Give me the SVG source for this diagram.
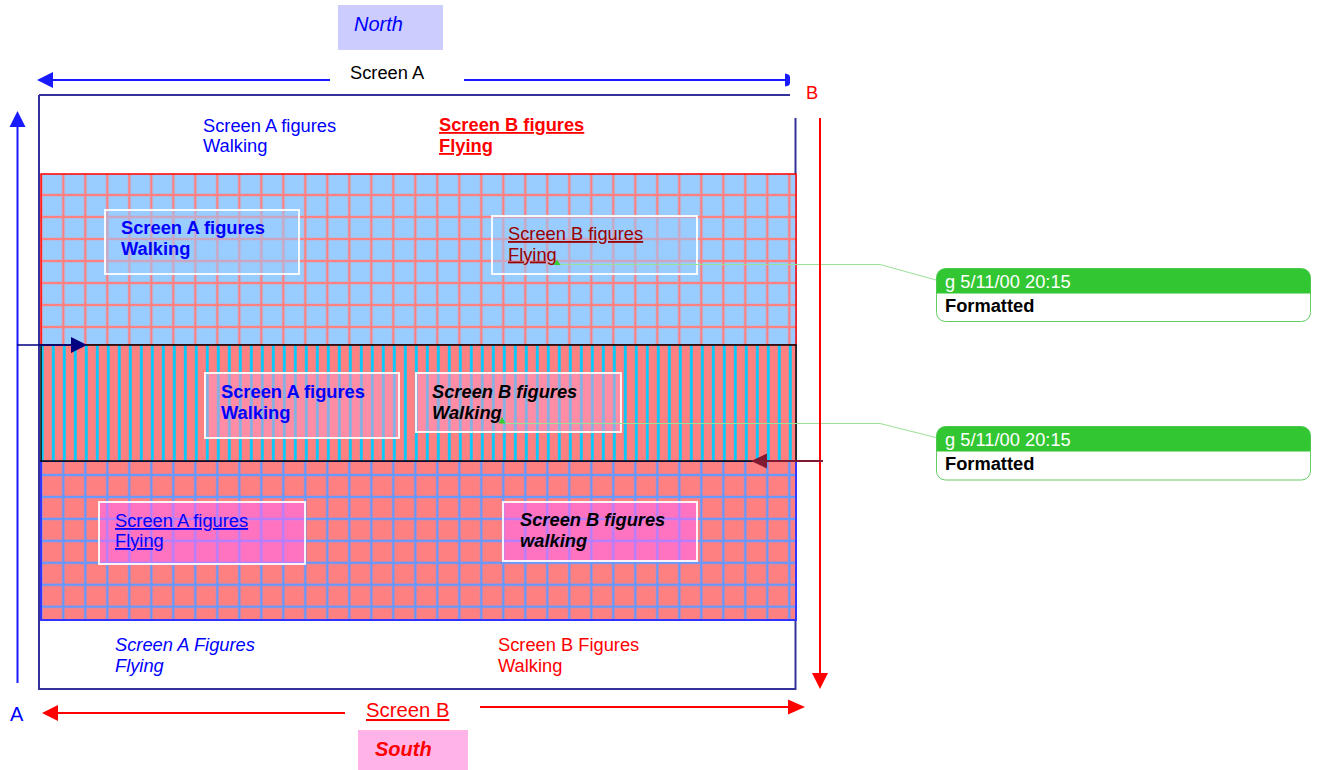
<svg xmlns="http://www.w3.org/2000/svg" width="1318" height="770" viewBox="0 0 1318 770">
<style>
text{font-family:"Liberation Sans",Arial,sans-serif;font-size:18.3px}
.blue{fill:#0000ff}
.red{fill:#ff0000}
.b{font-weight:bold}
.i{font-style:italic}
.u{text-decoration:underline}
.tbox{stroke:#ffffff;stroke-width:2;stroke-opacity:0.9}
.cmt{fill:#ffffff;stroke:#66cc66;stroke-width:1}
.cmth{fill:#33c633}
.lead{fill:none;stroke:#99e099;stroke-width:1}
</style>
<defs>
<pattern id="gridTop" patternUnits="userSpaceOnUse" x="52.3" y="184" width="22" height="22">
<rect width="22" height="22" fill="#99ccff"/>
<rect x="9.8" y="0" width="2.4" height="22" fill="#ff8080"/>
<rect x="0" y="9.8" width="22" height="2.4" fill="#ff8080"/>
</pattern>
<pattern id="gridBot" patternUnits="userSpaceOnUse" x="52.3" y="464" width="22" height="21.95">
<rect width="22" height="22" fill="#ff8080"/>
<rect x="9.8" y="0" width="2.4" height="22" fill="#6699ff"/>
<rect x="0" y="9.8" width="22" height="2.4" fill="#6699ff"/>
</pattern>
<pattern id="stripes" patternUnits="userSpaceOnUse" x="47.8" y="0" width="11" height="20">
<rect width="11" height="20" fill="#ff8080"/>
<rect x="4.1" y="0" width="2.8" height="20" fill="#00ccff"/>
</pattern>
</defs>

<g id="north">
<rect x="338" y="5" width="105" height="45" fill="#ccccff"/>
<text x="354" y="31" class="blue i" style="font-size:20px">North</text>
</g>
<g id="south">
<rect x="358" y="730" width="110" height="40" fill="#ffb3e6"/>
<text x="375" y="756" class="red b i" style="font-size:20px">South</text>
</g>

<g id="frame">
<path d="M39,95 H790 M39,95 V689 H795.5 V118" fill="none" stroke="#333399" stroke-width="2"/>
</g>

<g id="band-top">
<rect x="41" y="174" width="755" height="171" fill="url(#gridTop)" stroke="#ff0000" stroke-width="1.5"/>
</g>
<g id="band-bottom">
<rect x="41" y="461" width="755" height="159" fill="url(#gridBot)" stroke="#3333ff" stroke-width="2"/>
</g>
<g id="band-middle">
<rect x="41" y="345" width="755" height="116" fill="url(#stripes)" stroke="#000000" stroke-width="1.5"/>
</g>

<g id="label-top-a">
<text x="203" y="131.5" class="blue">Screen A figures</text>
<text x="203" y="152" class="blue">Walking</text>
</g>
<g id="label-top-b">
<text x="439" y="131" class="red b u">Screen B figures</text>
<text x="439" y="152" class="red b u">Flying</text>
</g>

<g id="box-top-a">
<rect class="tbox" x="105" y="210" width="194" height="64" fill="#99ccff" fill-opacity="0.5"/>
<text x="121" y="234" class="blue b">Screen A figures</text>
<text x="121" y="255" class="blue b">Walking</text>
</g>
<g id="box-top-b">
<rect class="tbox" x="492" y="216" width="205" height="58" fill="#99ccff" fill-opacity="0.5"/>
<text x="508" y="240" class="u" fill="#990000">Screen B figures</text>
<text x="508" y="260.5" class="u" fill="#990000">Flying</text>
</g>
<g id="box-mid-a">
<rect class="tbox" x="205" y="373" width="194" height="65" fill="#ff99cc" fill-opacity="0.5"/>
<text x="221" y="398" class="blue b">Screen A figures</text>
<text x="221" y="419" class="blue b">Walking</text>
</g>
<g id="box-mid-b">
<rect class="tbox" x="416" y="373" width="205" height="59" fill="#ff99cc" fill-opacity="0.5"/>
<text x="432" y="397.5" class="b i" fill="#000000">Screen B figures</text>
<text x="432" y="418.5" class="b i" fill="#000000">Walking</text>
</g>
<g id="box-bot-a">
<rect class="tbox" x="99" y="502" width="206" height="62" fill="#ff66ff" fill-opacity="0.5"/>
<text x="115" y="527" class="blue u">Screen A figures</text>
<text x="115" y="547" class="blue u">Flying</text>
</g>
<g id="box-bot-b">
<rect class="tbox" x="503" y="502" width="194" height="59" fill="#ff66ff" fill-opacity="0.5"/>
<text x="520" y="526" class="b i" fill="#000000">Screen B figures</text>
<text x="520" y="547" class="b i" fill="#000000">walking</text>
</g>

<g id="label-bot-a">
<text x="115" y="651" class="blue i">Screen A Figures</text>
<text x="115" y="672" class="blue i">Flying</text>
</g>
<g id="label-bot-b">
<text x="498" y="651" class="red">Screen B Figures</text>
<text x="498" y="672" class="red">Walking</text>
</g>

<g id="label-screen-a"><text x="350" y="79" fill="#000000">Screen A</text></g>
<g id="label-screen-b"><text x="366" y="717" class="red u" style="font-size:20.3px">Screen B</text></g>
<g id="label-a"><text x="10" y="721" class="blue" style="font-size:20px">A</text></g>
<g id="label-b"><text x="806" y="99" class="red">B</text></g>

<g id="comment-1">
<rect class="cmt" x="936.5" y="268.5" width="374" height="53" rx="9"/>
<path class="cmth" d="M936.5,293.5 V277.5 A9,9 0 0 1 945.5,268.5 H1301.5 A9,9 0 0 1 1310.5,277.5 V293.5 Z"/>
<text x="945" y="287.5" fill="#ffffff">g 5/11/00 20:15</text>
<text x="945" y="312" class="b" fill="#000000">Formatted</text>
</g>
<g id="comment-2">
<rect class="cmt" x="936.5" y="426.5" width="374" height="53.5" rx="9"/>
<path class="cmth" d="M936.5,451.5 V435.5 A9,9 0 0 1 945.5,426.5 H1301.5 A9,9 0 0 1 1310.5,435.5 V451.5 Z"/>
<text x="945" y="445.5" fill="#ffffff">g 5/11/00 20:15</text>
<text x="945" y="470" class="b" fill="#000000">Formatted</text>
</g>

<g id="connectors">
<polyline class="lead" points="557,264.5 880,264.5 936,280"/>
<polyline class="lead" points="502,423.5 880,423.5 936,437.5"/>
<polygon points="553.5,265 557,259.5 560.5,265" fill="#33cc33"/>
<polygon points="498.5,423.5 502,417 505.5,423.5" fill="#33cc33"/>

<line x1="330" y1="80" x2="52" y2="80" stroke="#1a1aff" stroke-width="2"/>
<polygon points="37,80 53,72 53,88" fill="#1a1aff"/>
<line x1="464" y1="80" x2="786" y2="80" stroke="#1a1aff" stroke-width="2"/>
<path d="M785,73.5 Q790,74 790,77 V83 Q790,86 785,86.5 Z" fill="#1a1aff"/>

<line x1="17.5" y1="683" x2="17.5" y2="126" stroke="#1a1aff" stroke-width="2"/>
<polygon points="17.5,111 9.5,127 25.5,127" fill="#1a1aff"/>

<line x1="820" y1="118" x2="820" y2="674" stroke="#ff0000" stroke-width="2"/>
<polygon points="820,689 812,673 828,673" fill="#ff0000"/>

<line x1="345" y1="713" x2="57" y2="713" stroke="#ff0000" stroke-width="2"/>
<polygon points="42,713 58,705 58,721" fill="#ff0000"/>
<line x1="480" y1="707" x2="789" y2="707" stroke="#ff0000" stroke-width="2"/>
<polygon points="805,707 788,699.5 788,714.5" fill="#ff0000"/>

<line x1="17" y1="345" x2="72" y2="345" stroke="#000080" stroke-width="1.5"/>
<polygon points="87,345 71,337 71,353" fill="#000080"/>

<line x1="823" y1="461" x2="766" y2="461" stroke="#801a33" stroke-width="2"/>
<polygon points="751,461 767,453.5 767,468.5" fill="#801a33"/>
</g>
</svg>
